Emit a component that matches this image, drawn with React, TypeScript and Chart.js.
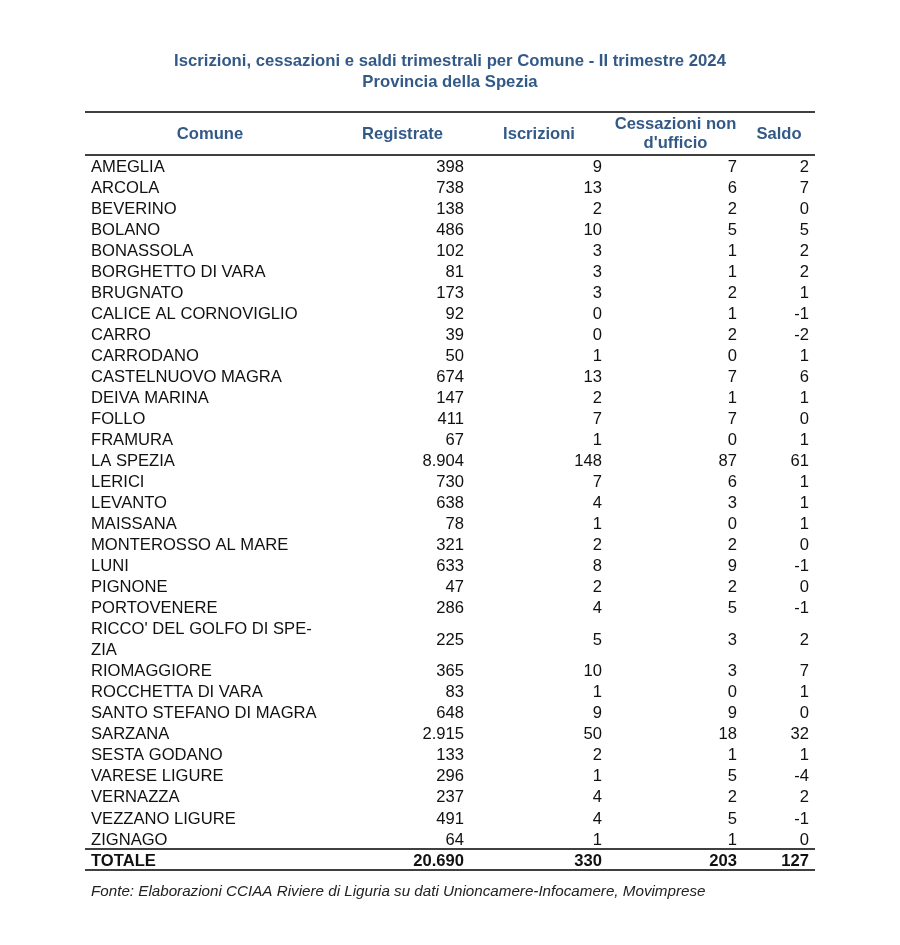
import React, { useEffect, useRef } from "react";
import { Chart, registerables } from "chart.js";

Chart.register(...registerables);

const TITLE_LINES = [
  "Iscrizioni, cessazioni e saldi trimestrali per Comune - II trimestre 2024",
  "Provincia della Spezia",
];
const FOOTER = "Fonte: Elaborazioni CCIAA Riviere di Liguria su dati Unioncamere-Infocamere, Movimprese";

const HEADERS = ["Comune", "Registrate", "Iscrizioni", "Cessazioni non\nd'ufficio", "Saldo"];

const COMUNI = [
  "AMEGLIA", "ARCOLA", "BEVERINO", "BOLANO", "BONASSOLA", "BORGHETTO DI VARA",
  "BRUGNATO", "CALICE AL CORNOVIGLIO", "CARRO", "CARRODANO", "CASTELNUOVO MAGRA",
  "DEIVA MARINA", "FOLLO", "FRAMURA", "LA SPEZIA", "LERICI", "LEVANTO", "MAISSANA",
  "MONTEROSSO AL MARE", "LUNI", "PIGNONE", "PORTOVENERE", "RICCO' DEL GOLFO DI SPE-\nZIA",
  "RIOMAGGIORE", "ROCCHETTA DI VARA", "SANTO STEFANO DI MAGRA", "SARZANA",
  "SESTA GODANO", "VARESE LIGURE", "VERNAZZA", "VEZZANO LIGURE", "ZIGNAGO",
];
const REGISTRATE = [398, 738, 138, 486, 102, 81, 173, 92, 39, 50, 674, 147, 411, 67, 8904, 730, 638, 78, 321, 633, 47, 286, 225, 365, 83, 648, 2915, 133, 296, 237, 491, 64];
const ISCRIZIONI = [9, 13, 2, 10, 3, 3, 3, 0, 0, 1, 13, 2, 7, 1, 148, 7, 4, 1, 2, 8, 2, 4, 5, 10, 1, 9, 50, 2, 1, 4, 4, 1];
const CESSAZIONI = [7, 6, 2, 5, 1, 1, 2, 1, 2, 0, 7, 1, 7, 0, 87, 6, 3, 0, 2, 9, 2, 5, 3, 3, 0, 9, 18, 1, 5, 2, 5, 1];
const SALDO = [2, 7, 0, 5, 2, 2, 1, -1, -2, 1, 6, 1, 0, 1, 61, 1, 1, 1, 0, -1, 0, -1, 2, 7, 1, 0, 32, 1, -4, 2, -1, 0];

const TOTAL_LABEL = "TOTALE";
const TOTALS = [20690, 330, 203, 127];

// layout constants (not data)
const COL_WIDTHS = [250, 135, 138, 135, 72];
const HEADER_UNITS = 2.05;
const CELL_PAD = 6;
const FONT = "'Liberation Sans', Arial, sans-serif";
const BLUE = "#335a87";

function fmt(n: number): string {
  const s = Math.abs(n).toString().replace(/\B(?=(\d{3})+(?!\d))/g, ".");
  return (n < 0 ? "-" : "") + s;
}

export default function App() {
  const ref = useRef<HTMLCanvasElement>(null);

  useEffect(() => {
    if (!ref.current) return;
    const colEdges: number[] = [0];
    COL_WIDTHS.forEach((w) => colEdges.push(colEdges[colEdges.length - 1] + w));
    const totalWidth = colEdges[colEdges.length - 1];

    // row positions in line units
    const rowY: number[] = [];
    let cursor = 0;
    COMUNI.forEach((name) => {
      const n = name.split("\n").length;
      rowY.push(cursor + n / 2);
      cursor += n;
    });
    const totalStart = cursor;
    const totalY = cursor + 0.5;
    const yMax = cursor + 1;

    const allNames = [...COMUNI, TOTAL_LABEL];
    const allY = [...rowY, totalY];
    const columns = [REGISTRATE, ISCRIZIONI, CESSAZIONI, SALDO];
    const totals = TOTALS;

    const datasets: any[] = [];
    datasets.push({
      label: "Comune",
      data: allY.map((y) => ({ x: colEdges[0] + CELL_PAD, y })),
      pointRadius: 0,
      texts: allNames,
      align: "left",
    });
    columns.forEach((col, ci) => {
      const values = [...col, totals[ci]];
      datasets.push({
        label: HEADERS[ci + 1],
        data: allY.map((y) => ({ x: colEdges[ci + 2] - CELL_PAD, y })),
        pointRadius: 0,
        texts: values.map(fmt),
        align: "right",
      });
    });

    const tablePlugin = {
      id: "tablePlugin",
      afterDatasetsDraw(chart: any) {
        const { ctx, chartArea, scales } = chart;
        const xs = scales.x;
        const ys = scales.y;
        const unit = ys.getPixelForValue(1) - ys.getPixelForValue(0);
        ctx.save();

        // title
        ctx.fillStyle = BLUE;
        ctx.font = `bold 16.7px ${FONT}`;
        ctx.textAlign = "center";
        ctx.textBaseline = "middle";
        const cx = (chartArea.left + chartArea.right) / 2;
        ctx.fillText(TITLE_LINES[0], cx, 61);
        ctx.fillText(TITLE_LINES[1], cx, 82);

        // rules
        ctx.strokeStyle = "#000";
        ctx.lineWidth = 1.5;
        [-HEADER_UNITS, 0, totalStart, yMax].forEach((v) => {
          const py = ys.getPixelForValue(v);
          ctx.beginPath();
          ctx.moveTo(chartArea.left, py);
          ctx.lineTo(chartArea.right, py);
          ctx.stroke();
        });

        // header
        ctx.fillStyle = BLUE;
        ctx.font = `bold 16.6px ${FONT}`;
        ctx.textAlign = "center";
        const hy = ys.getPixelForValue(-HEADER_UNITS / 2);
        HEADERS.forEach((h, i) => {
          const hx = xs.getPixelForValue((colEdges[i] + colEdges[i + 1]) / 2);
          const lines = h.split("\n");
          lines.forEach((ln, li) => {
            ctx.fillText(ln, hx, hy + 0.5 + (li - (lines.length - 1) / 2) * unit * 0.9);
          });
        });

        // cells
        chart.data.datasets.forEach((ds: any, di: number) => {
          const meta = chart.getDatasetMeta(di);
          ctx.textAlign = ds.align;
          meta.data.forEach((pt: any, i: number) => {
            const isTotal = i === allNames.length - 1;
            ctx.fillStyle = "#111";
            ctx.font = `${isTotal ? "bold " : ""}16.6px ${FONT}`;
            const lines = String(ds.texts[i]).split("\n");
            lines.forEach((ln, li) => {
              ctx.fillText(ln, pt.x, pt.y + 1.5 + (li - (lines.length - 1) / 2) * unit);
            });
          });
        });

        // footer
        ctx.fillStyle = "#222";
        ctx.font = `italic 15.2px ${FONT}`;
        ctx.textAlign = "left";
        ctx.fillText(FOOTER, chartArea.left + CELL_PAD, 892);
        ctx.restore();
      },
    };

    const chart = new Chart(ref.current, {
      type: "scatter",
      data: { datasets },
      options: {
        animation: false,
        responsive: false,
        devicePixelRatio: 1,
        layout: { padding: { left: 85, right: 85, top: 112, bottom: 75 } },
        plugins: {
          legend: { display: false },
          tooltip: { enabled: false },
          title: { display: false },
        },
        scales: {
          x: { type: "linear", min: 0, max: totalWidth, display: false },
          y: { type: "linear", min: -HEADER_UNITS, max: yMax, reverse: true, display: false },
        },
      },
      plugins: [tablePlugin],
    } as any);
    return () => chart.destroy();
  }, []);

  return (
    <div style={{ position: "absolute", left: 0, top: 0, width: 900, height: 945, background: "#fff" }}>
      <canvas ref={ref} width={900} height={945} />
    </div>
  );
}
